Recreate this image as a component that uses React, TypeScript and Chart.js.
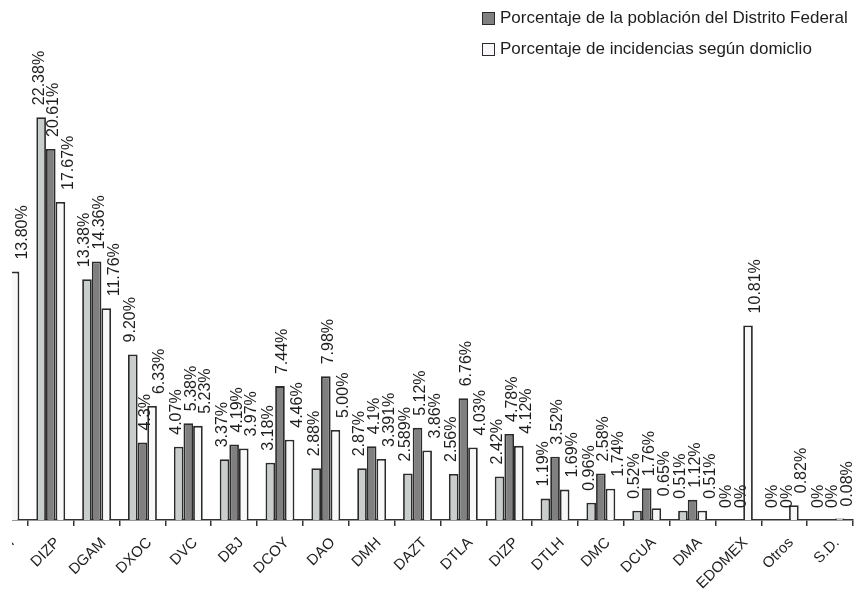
import React, { useEffect, useRef } from "react";
import { Chart, registerables } from "chart.js";

Chart.register(...registerables);

const categories = ["DCUH", "DIZP", "DGAM", "DXOC", "DVC", "DBJ", "DCOY", "DAO", "DMH", "DAZT", "DTLA", "DIZP", "DTLH", "DMC", "DCUA", "DMA", "EDOMEX", "Otros", "S.D."];
const lightValues = ["24.50", "22.38", "13.38", "9.20", "4.07", "3.37", "3.18", "2.88", "2.87", "2.589", "2.56", "2.42", "1.19", "0.96", "0.52", "0.51", "0", "0", "0"];
const popValues = ["6.0", "20.61", "14.36", "4.3", "5.38", "4.19", "7.44", "7.98", "4.1", "5.12", "6.76", "4.78", "3.52", "2.58", "1.76", "1.12", "0", "0", "0"];
const incValues = ["13.80", "17.67", "11.76", "6.33", "5.23", "3.97", "4.46", "5.00", "3.391", "3.86", "4.03", "4.12", "1.69", "1.74", "0.65", "0.51", "10.81", "0.82", "0.08"];

const seriesNames = ["", "Porcentaje de la población del Distrito Federal", "Porcentaje de incidencias según domiclio"];
const seriesColors = ["#c9cdcb", "#808080", "#f9f7f9"];
const borderColor = "#2b2b2b";
const FONT = "'Liberation Sans', Arial, Helvetica, sans-serif";
const labelShift = [-2, 3, 8];

const valueLabelsPlugin = {
  id: "valueLabels",
  afterDatasetsDraw(chart: any) {
    const ctx = chart.ctx;
    const sources = [lightValues, popValues, incValues];
    ctx.save();
    ctx.font = `16px ${FONT}`;
    ctx.fillStyle = "#1e1e1e";
    ctx.textAlign = "left";
    ctx.textBaseline = "middle";
    chart.data.datasets.forEach((ds: any, di: number) => {
      const meta = chart.getDatasetMeta(di);
      meta.data.forEach((el: any, i: number) => {
        const txt = sources[di][i] + "%";
        ctx.save();
        ctx.translate(el.x + labelShift[di], el.y - 12);
        ctx.rotate(-Math.PI / 2);
        ctx.fillText(txt, 0, 0);
        ctx.restore();
      });
    });
    ctx.restore();
  },
};

export default function App() {
  const canvasRef = useRef<HTMLCanvasElement | null>(null);

  useEffect(() => {
    if (!canvasRef.current) return;
    const chart = new Chart(canvasRef.current, {
      type: "bar",
      data: {
        labels: categories,
        datasets: [lightValues, popValues, incValues].map((vals, i) => ({
          label: seriesNames[i],
          data: vals.map(Number),
          backgroundColor: seriesColors[i],
          borderColor: borderColor,
          borderWidth: 1.8,
          borderSkipped: "bottom",
          categoryPercentage: 0.63,
          barPercentage: 1,
        })),
      },
      options: {
        responsive: false,
        animation: false,
        layout: { padding: { left: 42, right: 10, top: 70, bottom: 0 } },
        plugins: {
          legend: { display: false },
          tooltip: { enabled: false },
        },
        scales: {
          x: {
            offset: true,
            grid: {
              display: true,
              drawOnChartArea: false,
              drawTicks: true,
              tickLength: 6,
              color: "#333",
              lineWidth: 1.5,
              offset: true,
            },
            border: { display: true, color: "#333", width: 1.5 },
            ticks: {
              minRotation: 45,
              maxRotation: 45,
              autoSkip: false,
              color: "#1e1e1e",
              font: { family: FONT, size: 15 },
              padding: 8,
              labelOffset: 7,
            },
            afterFit: (scale: any) => {
              scale.height = 70;
            },
          },
          y: {
            display: false,
            min: 0,
            max: 25,
          },
        },
      },
      plugins: [valueLabelsPlugin],
    });
    return () => chart.destroy();
  }, []);

  const legendRow = (color: string, text: string, top: number) => (
    <div
      style={{
        position: "absolute",
        left: 470,
        top,
        height: 20,
        display: "flex",
        alignItems: "center",
        fontFamily: FONT,
        fontSize: 17,
        color: "#1e1e1e",
        whiteSpace: "nowrap",
      }}
    >
      <span
        style={{
          display: "inline-block",
          width: 11,
          height: 11,
          background: color,
          border: `1.5px solid ${borderColor}`,
          marginRight: 5,
        }}
      />
      <span>{text}</span>
    </div>
  );

  return (
    <div
      style={{
        position: "fixed",
        left: 12,
        top: 0,
        width: 851,
        height: 590,
        overflow: "hidden",
        background: "#fff",
      }}
    >
      <canvas
        ref={canvasRef}
        width={923}
        height={590}
        style={{ position: "absolute", left: -72, top: 0, width: 923, height: 590 }}
      />
      {legendRow(seriesColors[1], seriesNames[1], 8)}
      {legendRow(seriesColors[2], seriesNames[2], 39)}
    </div>
  );
}
